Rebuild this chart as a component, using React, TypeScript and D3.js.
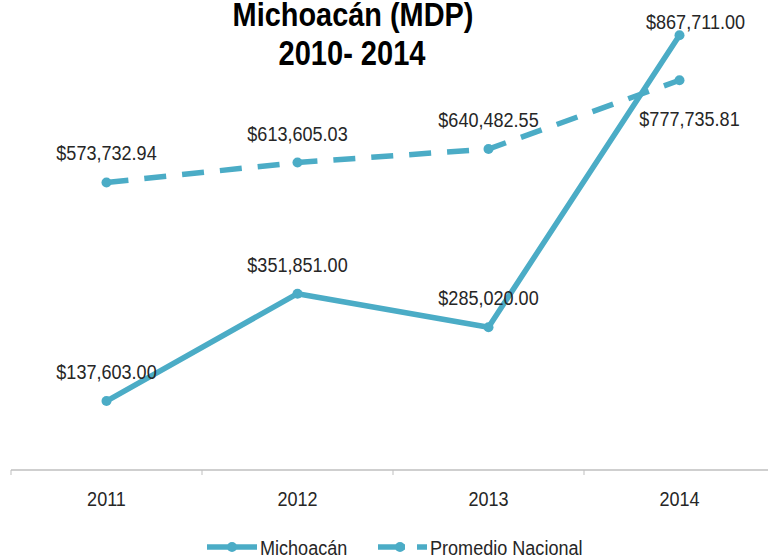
import React from "react";
import * as d3 from "d3";

const years = ["2011", "2012", "2013", "2014"];
const michoacan = [137603.0, 351851.0, 285020.0, 867711.0];
const promedio = [573732.94, 613605.03, 640482.55, 777735.81];
const seriesNames = ["Michoacán", "Promedio Nacional"];
const titleLines = ["Michoacán (MDP)", "2010- 2014"];

const W = 768;
const H = 559;
const COLOR = "#4bacc6";
const FONT = "'Liberation Sans', Arial, sans-serif";
const TEXT = "#262626";
const SX = 0.86;

const fmt = (v: number) => "$" + d3.format(",.2f")(v);

type NTProps = {
  x: number;
  y: number;
  sx?: number;
  anchor?: "start" | "middle" | "end";
  size?: number;
  weight?: string;
  fill?: string;
  children: React.ReactNode;
};

function NText({ x, y, sx = SX, anchor = "middle", size = 21, weight = "normal", fill = TEXT, children }: NTProps) {
  return (
    <text
      transform={`translate(${x},${y}) scale(${sx},1)`}
      textAnchor={anchor}
      fontSize={size}
      fontWeight={weight}
      fill={fill}
    >
      {children}
    </text>
  );
}

export default function App() {
  const x = d3.scaleBand<string>().domain(years).range([11, 775]);
  const y = d3.scaleLinear().domain([0, 900000]).range([470, 19]);
  const cx = (d: string) => (x(d) as number) + x.bandwidth() / 2;
  const line = d3
    .line<number>()
    .x((_, i) => cx(years[i]))
    .y((v) => y(v));

  const last = years.length - 1;
  const michLabel = (i: number) =>
    i === last ? { dx: 16, dy: -6 } : { dx: 0, dy: -22 };
  const promLabel = (i: number) =>
    i === last ? { dx: 10, dy: 46 } : { dx: 0, dy: -22 };

  const boundaries = years.map((d) => x(d) as number).concat([x.range()[1]]);

  return (
    <svg
      width={W}
      height={H}
      style={{ position: "absolute", left: 0, top: 0, background: "#fff" }}
      fontFamily={FONT}
    >
      {/* Title */}
      <NText x={353} y={26} size={34} weight="bold" sx={0.85} fill="#000">{titleLines[0]}</NText>
      <NText x={352} y={65} size={35} weight="bold" sx={0.83} fill="#000">{titleLines[1]}</NText>

      {/* Axis */}
      <line x1={x.range()[0]} x2={W} y1={y(0)} y2={y(0)} stroke="#bfbfbf" strokeWidth={1.5} />
      {boundaries.map((b, i) => (
        <line key={i} x1={b} x2={b} y1={y(0)} y2={y(0) + 5} stroke="#bfbfbf" strokeWidth={1} />
      ))}
      {years.map((d) => (
        <NText key={d} x={cx(d)} y={506}>{d}</NText>
      ))}

      {/* Promedio Nacional (dashed) */}
      <path
        d={line(promedio) || ""}
        fill="none"
        stroke={COLOR}
        strokeWidth={5.5}
        strokeDasharray="22 16"
      />
      {promedio.map((v, i) => (
        <circle key={i} cx={cx(years[i])} cy={y(v)} r={5} fill={COLOR} />
      ))}

      {/* Michoacán (solid) */}
      <path d={line(michoacan) || ""} fill="none" stroke={COLOR} strokeWidth={5.5} strokeLinejoin="round" />
      {michoacan.map((v, i) => (
        <circle key={i} cx={cx(years[i])} cy={y(v)} r={5} fill={COLOR} />
      ))}

      {/* Data labels */}
      {michoacan.map((v, i) => {
        const o = michLabel(i);
        return (
          <NText key={"m" + i} x={cx(years[i]) + o.dx} y={y(v) + o.dy}>
            {fmt(v)}
          </NText>
        );
      })}
      {promedio.map((v, i) => {
        const o = promLabel(i);
        return (
          <NText key={"p" + i} x={cx(years[i]) + o.dx} y={y(v) + o.dy}>
            {fmt(v)}
          </NText>
        );
      })}

      {/* Legend */}
      <g>
        <line x1={207} x2={257} y1={547} y2={547} stroke={COLOR} strokeWidth={5.5} />
        <circle cx={232} cy={547} r={5} fill={COLOR} />
        <NText x={260} y={555} anchor="start">{seriesNames[0]}</NText>
        <line x1={378} x2={405} y1={547} y2={547} stroke={COLOR} strokeWidth={5.5} />
        <line x1={417} x2={427} y1={547} y2={547} stroke={COLOR} strokeWidth={5.5} />
        <circle cx={400} cy={547} r={5} fill={COLOR} />
        <NText x={430} y={555} anchor="start">{seriesNames[1]}</NText>
      </g>
    </svg>
  );
}
